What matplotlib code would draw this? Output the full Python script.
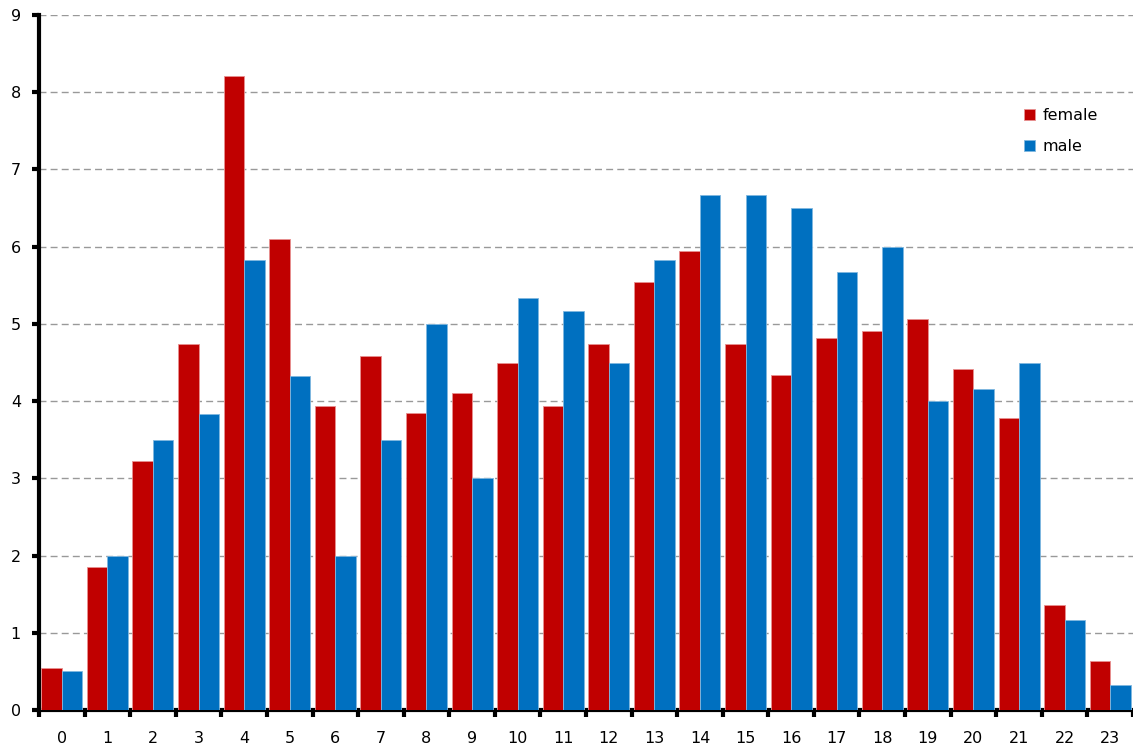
import matplotlib.pyplot as plt
import numpy as np

hours = list(range(24))
female = [0.55, 1.85, 3.22, 4.74, 8.21, 6.10, 3.94, 4.58, 3.85, 4.10, 4.50, 3.94,
          4.74, 5.54, 5.95, 4.74, 4.34, 4.82, 4.91, 5.06, 4.41, 3.78, 1.36, 0.64]
male = [0.50, 2.00, 3.50, 3.83, 5.83, 4.33, 2.00, 3.50, 5.00, 3.00, 5.33, 5.17,
        4.50, 5.83, 6.67, 6.67, 6.50, 5.67, 6.00, 4.00, 4.16, 4.50, 1.17, 0.33]

fig = plt.figure(figsize=(11.33, 7.51), dpi=100)
ax = fig.add_axes([39 / 1133, 41 / 751, 1094 / 1133, 695 / 751])

x = np.arange(len(hours))
w = 0.45
ax.bar(x - w / 2, female, w, color='#C00000', edgecolor='#E89090', linewidth=0.6, label='female', zorder=3)
ax.bar(x + w / 2, male, w, color='#0070C0', edgecolor='#80B8E0', linewidth=0.6, label='male', zorder=3)

ax.set_xlim(-0.5, 23.39)
ax.set_ylim(0, 9)
ax.set_yticks(range(10))
ax.yaxis.grid(True, linestyle=(0, (5, 3)), color='#999999', linewidth=1, zorder=0)

# ticks at category boundaries, labels at centers
ax.set_xticks(np.arange(-0.5, 24, 1))
ax.set_xticklabels([])
ax.set_xticks(x, minor=True)
ax.set_xticklabels([str(h) for h in hours], minor=True)
ax.tick_params(axis='x', which='major', length=5, width=3, direction='out')
ax.tick_params(axis='x', which='minor', length=0, pad=15, labelsize=11.5)
ax.tick_params(axis='y', length=5, width=3, direction='out', pad=8, labelsize=11.5)

for s in ['top', 'right']:
    ax.spines[s].set_visible(False)
for s in ['left', 'bottom']:
    ax.spines[s].set_linewidth(3)

ax.legend(loc='upper left', bbox_to_anchor=(0.893, 0.878), frameon=False, fontsize=11.5,
          handlelength=0.7, handleheight=0.7, handletextpad=0.45, labelspacing=1.0,
          borderpad=0)

fig.savefig('out.png', dpi=100)
